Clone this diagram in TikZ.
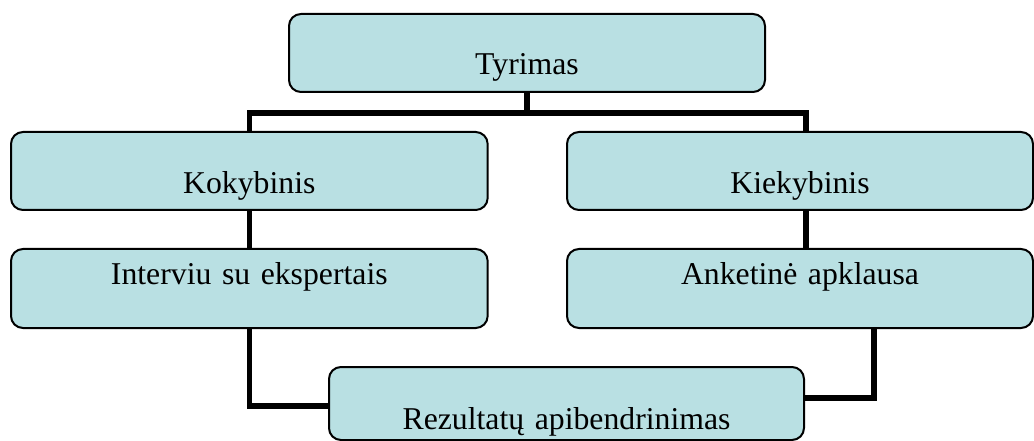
\documentclass[tikz,border=0pt]{standalone}
\usepackage{fontspec}
\setmainfont{Liberation Serif}
\usetikzlibrary{backgrounds}
\definecolor{boxfill}{RGB}{185,224,227}
\begin{document}
\begin{tikzpicture}[
  x=0.75pt, y=-0.75pt,
  stage/.style={draw=black, line width=1.5pt, fill=boxfill, rounded corners=9pt,
    inner sep=0pt, align=center, anchor=north west,
    font=\fontsize{23.8pt}{28pt}\selectfont},
  wide/.style={text width=357.5pt},
  narrow/.style={text width=349.5pt},
  lowtext/.style={text height=46.5pt, text depth=12pt},
  hightext/.style={text height=27pt, text depth=32.25pt},
  conn/.style={draw=black, line width=4pt, line join=miter}
]
\useasboundingbox (0,0) rectangle (1034,441);

% research plan boxes
\node[stage, text width=357pt, text height=45.75pt, text depth=12.75pt] (tyr) at (288,13) {Tyrimas};
\node[stage, wide, lowtext] (kok) at (10,131) {Kokybinis};
\node[stage, narrow, lowtext] (kiek) at (566,131) {Kiekybinis};
\node[stage, wide, hightext] (int) at (10,248) {Interviu su ekspertais};
\node[stage, narrow, hightext] (ank) at (566,248) {Anketinė apklausa};
\node[stage, text width=356.25pt, text height=46.5pt, text depth=8.25pt] (rez) at (328,366) {Rezultatų apibendrinimas};

% branching point below the top box
\path (tyr.south) ++(0,20) coordinate (split);

% connectors behind the boxes
\begin{scope}[on background layer]
  \draw[conn] (tyr.south) -- (split);
  \draw[conn] (kok.north) |- (split) -| ([xshift=4.5pt]kiek.north);
  \draw[conn] (kok.south) -- (int.north);
  \draw[conn] ([xshift=4.5pt]kiek.south) -- ([xshift=4.5pt]ank.north);
  \draw[conn] (int.south) |- ([yshift=-1.9pt]rez.west);
  \draw[conn] ([xshift=55.5pt]ank.south) |- ([yshift=4.1pt]rez.east);
\end{scope}
\end{tikzpicture}
\end{document}
